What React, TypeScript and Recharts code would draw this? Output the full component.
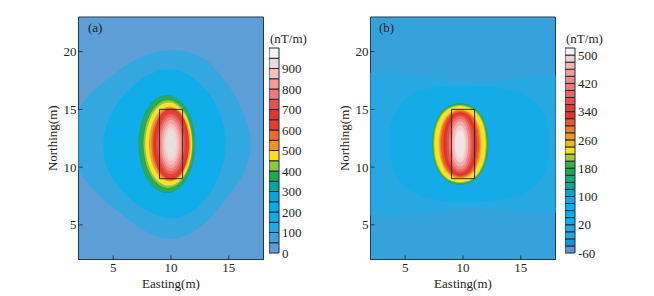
import { ScatterChart, Scatter, BarChart, Bar, XAxis, YAxis, ReferenceArea } from "recharts";

type Pair = [number, number];

const xTicks = [5, 10, 15];
const yTicks = [5, 10, 15, 20];
const anomalyBox: Pair[] = [[9, 9], [11, 9], [11, 15], [9, 15]];
const tickLength = 0.35; // in axis units

// colour bars, bottom to top
const barColorsA = [
  "#5f9bd4", "#3fa4dd", "#22a9e3", "#0fade9", "#00aeef", "#00a9d8", "#00a79d", "#1fa84f", "#8dc63f", "#fbe116",
  "#f7941d", "#ea6b2a", "#e2402f", "#e2332f", "#ec5050", "#ef7878", "#f29c96", "#f5bfbc", "#ecdcdf", "#f6f3f3",
];
const barTicksA = [0, 2, 4, 6, 8, 10, 12, 14, 16, 18];
const barLabelsA = ["0", "100", "200", "300", "400", "500", "600", "700", "800", "900"];

const barColorsB = [
  "#5f96cf", "#0d9bd8", "#2aa5df", "#22a9e3", "#10ade9", "#00aeef", "#00aeef", "#06aae4", "#0ea4c8", "#0fa78f",
  "#16a878", "#1fa84f", "#3bb04a", "#a3c93a", "#fbe116", "#f2b61f", "#f4971f", "#ef7a28", "#e85a2b", "#e2332f",
  "#e2402f", "#e85050", "#ec6464", "#ef7878", "#f08c88", "#f29c96", "#f5b4b0", "#f1d0d2", "#f8f0f2",
];
const barTicksB = [0, 4, 8, 12, 16, 20, 24, 28];
const barLabelsB = ["-60", "20", "100", "180", "260", "340", "420", "500"];

// contours of panel (a), outermost first
const contoursA: { color: string; points: Pair[] }[] = [
  { color: "#35a7e0", points: [[2.11,15.24],[2.98,16.4],[4.42,17.55],[5.87,18.7],[7.31,19.57],[8.75,20],[10,20.15],[11.35,20.06],[12.8,19.57],[14.24,18.13],[15.68,16.11],[16.55,14.09],[17.12,12.07],[16.55,9.77],[15.39,8.04],[14.24,6.6],[12.8,4.87],[11.35,4.06],[10,3.66],[8.46,4.01],[7.02,4.87],[5.58,6.02],[4.13,7.18],[2.69,8.62],[1.68,10.06],[1.5,12.4],[1.68,14.4]] },
  { color: "#0fade9", points: [[14.9,12],[14.4,14.6],[13.2,16.6],[11.6,18.1],[10,18.6],[8.2,18.2],[6.4,16.9],[4.7,14.8],[3.95,12],[4.4,9.6],[6.1,7.4],[8.1,6],[10,5.4],[11.8,5.9],[13.3,7.5],[14.4,9.6]] },
  { color: "#12a88c", points: [[12.39,12],[11.59,15.33],[9.65,16.71],[7.71,15.33],[6.91,12],[7.71,8.67],[9.65,7.29],[11.59,8.67]] },
  { color: "#2dab52", points: [[12.29,12],[11.52,15.25],[9.65,16.6],[7.78,15.25],[7.01,12],[7.78,8.75],[9.65,7.4],[11.52,8.75]] },
  { color: "#8fc640", points: [[12.1,12],[11.41,14.98],[9.75,16.21],[8.09,14.98],[7.4,12],[8.09,9.02],[9.75,7.79],[11.41,9.02]] },
  { color: "#f7e32a", points: [[12.04,12],[11.38,14.82],[9.8,15.99],[8.22,14.82],[7.56,12],[8.22,9.18],[9.8,8.01],[11.38,9.18]] },
  { color: "#f6a02a", points: [[11.9,12],[11.31,14.55],[9.9,15.6],[8.49,14.55],[7.9,12],[8.49,9.45],[9.9,8.4],[11.31,9.45]] },
  { color: "#e8702c", points: [[11.78,12],[11.24,14.47],[9.95,15.49],[8.66,14.47],[8.12,12],[8.66,9.53],[9.95,8.51],[11.24,9.53]] },
  { color: "#e03a30", points: [[11.72,12],[11.22,14.39],[10,15.38],[8.78,14.39],[8.28,12],[8.78,9.61],[10,8.62],[11.22,9.61]] },
  { color: "#e5423c", points: [[11.44,12],[11.02,14.23],[10,15.16],[8.98,14.23],[8.56,12],[8.98,9.77],[10,8.84],[11.02,9.77]] },
  { color: "#ec6060", points: [[11.28,12],[10.9,14.04],[10,14.88],[9.1,14.04],[8.72,12],[9.1,9.96],[10,9.12],[10.9,9.96]] },
  { color: "#ef8080", points: [[11.11,12],[10.78,13.84],[10,14.61],[9.22,13.84],[8.89,12],[9.22,10.16],[10,9.39],[10.78,10.16]] },
  { color: "#f2a0a0", points: [[10.94,12],[10.67,13.65],[10,14.33],[9.33,13.65],[9.06,12],[9.33,10.35],[10,9.67],[10.67,10.35]] },
  { color: "#f4bdbd", points: [[10.78,12],[10.55,13.41],[10,14],[9.45,13.41],[9.22,12],[9.45,10.59],[10,10],[10.55,10.59]] },
  { color: "#edd0d3", points: [[10.61,12],[10.43,13.18],[10,13.66],[9.57,13.18],[9.39,12],[9.57,10.82],[10,10.34],[10.43,10.82]] },
  { color: "#e9dfe3", points: [[10.5,12],[10.35,12.9],[10,13.28],[9.65,12.9],[9.5,12],[9.65,11.1],[10,10.72],[10.35,11.1]] },
];

// contours of panel (b), outermost first
const contoursB: { color: string; points: Pair[] }[] = [
  { color: "#27a8e2", points: [[-2,18.2],[3,18.2],[6,18],[9,17.5],[11,17.2],[14,17.6],[18,18],[22,18],[22,6],[18,6],[14,6.2],[11,6.5],[9,6.3],[6,5.9],[3,5.8],[-2,5.8]] },
  { color: "#14ace8", points: [[17.6,12],[17.2,15],[15,16.6],[12,17],[9,17.1],[6,16.8],[4,15.2],[3.4,12],[4,9],[6,7.4],[9,6.9],[12,7],[15,7.4],[17.2,9]] },
  { color: "#1fa97a", points: [[12.41,12],[11.77,14.93],[9.75,15.86],[7.73,14.93],[7.09,12],[7.73,9.07],[9.75,8.14],[11.77,9.07]] },
  { color: "#3dae4a", points: [[12.34,12],[11.72,14.85],[9.75,15.75],[7.78,14.85],[7.16,12],[7.78,9.15],[9.75,8.25],[11.72,9.15]] },
  { color: "#9cc83c", points: [[12.25,12],[11.65,14.79],[9.75,15.67],[7.85,14.79],[7.25,12],[7.85,9.21],[9.75,8.33],[11.65,9.21]] },
  { color: "#f8e225", points: [[12.16,12],[11.58,14.73],[9.75,15.59],[7.92,14.73],[7.34,12],[7.92,9.27],[9.75,8.41],[11.58,9.27]] },
  { color: "#f4b31f", points: [[11.76,12],[11.28,14.48],[9.75,15.26],[8.22,14.48],[7.74,12],[8.22,9.52],[9.75,8.74],[11.28,9.52]] },
  { color: "#ef8427", points: [[11.65,12],[11.2,14.41],[9.75,15.17],[8.3,14.41],[7.85,12],[8.3,9.59],[9.75,8.83],[11.2,9.59]] },
  { color: "#e85a2b", points: [[11.54,12],[11.11,14.35],[9.75,15.1],[8.39,14.35],[7.96,12],[8.39,9.65],[9.75,8.9],[11.11,9.65]] },
  { color: "#e2332f", points: [[11.33,12],[10.95,14.27],[9.75,14.99],[8.55,14.27],[8.17,12],[8.55,9.73],[9.75,9.01],[10.95,9.73]] },
  { color: "#e64a45", points: [[11.05,12],[10.74,14.11],[9.75,14.77],[8.76,14.11],[8.45,12],[8.76,9.89],[9.75,9.23],[10.74,9.89]] },
  { color: "#ec6a6a", points: [[10.84,12],[10.58,13.98],[9.75,14.61],[8.92,13.98],[8.66,12],[8.92,10.02],[9.75,9.39],[10.58,10.02]] },
  { color: "#f08c88", points: [[10.67,12],[10.45,13.82],[9.75,14.39],[9.05,13.82],[8.83,12],[9.05,10.18],[9.75,9.61],[10.45,10.18]] },
  { color: "#f4b0ac", points: [[10.51,12],[10.33,13.61],[9.75,14.12],[9.17,13.61],[8.99,12],[9.17,10.39],[9.75,9.88],[10.33,10.39]] },
  { color: "#f1d0d2", points: [[10.35,12],[10.2,13.32],[9.75,13.74],[9.3,13.32],[9.15,12],[9.3,10.68],[9.75,10.26],[10.2,10.68]] },
  { color: "#efe4e8", points: [[10.18,12],[10.08,12.99],[9.75,13.3],[9.42,12.99],[9.32,12],[9.42,11.01],[9.75,10.7],[10.08,11.01]] },
];

const FONT = '"Liberation Serif", serif';
const INK = "#231f20";
const FRAME = "#2a3644";
const tickStyle = { fontSize: 13, fontFamily: FONT, fill: INK };

// inward tick marks, drawn as short two point lines so they sit above the fill
const tickSegments: Pair[][] = [
  ...xTicks.map((t): Pair[] => [[t, 2], [t, 2 + tickLength]]),
  ...yTicks.map((t): Pair[] => [[2, t], [2 + tickLength, t]]),
];

function Panel({ left, background, contours }: { left: number; background: string; contours: { color: string; points: Pair[] }[] }) {
  return (
    <div style={{ position: "absolute", left, top: 0 }}>
      <ScatterChart width={228} height={296} margin={{ top: 17, right: 4.5, bottom: 0, left: 0 }}>
        <ReferenceArea x1={2} x2={18} y1={2} y2={23} fill={background} fillOpacity={1} stroke="none" />
        <XAxis
          type="number"
          dataKey="x"
          domain={[2, 18]}
          ticks={xTicks}
          allowDataOverflow
          height={36.5}
          tick={tickStyle}
          tickLine={false}
          tickSize={-4}
          tickMargin={7}
          stroke={FRAME}
          label={{ value: "Easting(m)", position: "insideBottom", offset: 8, style: { ...tickStyle } }}
        />
        <YAxis
          type="number"
          dataKey="y"
          domain={[2, 23]}
          ticks={yTicks}
          allowDataOverflow
          width={38.5}
          tick={tickStyle}
          tickLine={false}
          tickSize={-4}
          tickMargin={6}
          stroke={FRAME}
          label={{ value: "Northing(m)", angle: -90, position: "insideLeft", offset: 12, style: { ...tickStyle, textAnchor: "middle" } }}
        />
        {contours.map((c, i) => (
          <Scatter
            key={i}
            data={c.points.map(([x, y]) => ({ x, y }))}
            line={{ fill: c.color, stroke: "none" }}
            lineJointType="basisClosed"
            shape={() => <g />}
            isAnimationActive={false}
          />
        ))}
        <Scatter
          data={anomalyBox.map(([x, y]) => ({ x, y }))}
          line={{ fill: "none", stroke: "#3a2a2a", strokeWidth: 1 }}
          lineJointType="linearClosed"
          shape={() => <g />}
          isAnimationActive={false}
        />
        {tickSegments.map((seg, i) => (
          <Scatter
            key={`tick${i}`}
            data={seg.map(([x, y]) => ({ x, y }))}
            line={{ fill: "none", stroke: FRAME, strokeWidth: 1 }}
            shape={() => <g />}
            isAnimationActive={false}
          />
        ))}
        <ReferenceArea x1={2} x2={18} y1={2} y2={23} fill="none" stroke={FRAME} strokeWidth={1} />
      </ScatterChart>
    </div>
  );
}

function ColorBar({ left, colors, ticks, labels }: { left: number; colors: string[]; ticks: number[]; labels: string[] }) {
  const row: Record<string, number | string> = { name: "bar" };
  colors.forEach((_, i) => {
    row[`c${i}`] = 1;
  });
  return (
    <div style={{ position: "absolute", left, top: 38 }}>
      <BarChart width={45} height={225} data={[row]} margin={{ top: 10, right: 0, bottom: 10, left: 0 }} barCategoryGap={0}>
        <XAxis dataKey="name" hide />
        <YAxis
          orientation="right"
          type="number"
          domain={[0, colors.length]}
          ticks={ticks}
          interval={0}
          width={35}
          axisLine={false}
          tickLine={false}
          tickMargin={-3}
          tickFormatter={(v: number) => labels[ticks.indexOf(v)]}
          tick={tickStyle}
        />
        {colors.map((c, i) => (
          <Bar key={i} dataKey={`c${i}`} stackId="cells" fill={c} stroke="#1d2a3c" strokeWidth={1} isAnimationActive={false} />
        ))}
      </BarChart>
    </div>
  );
}

function Caption({ left, top, text }: { left: number; top: number; text: string }) {
  return (
    <div style={{ position: "absolute", left, top, fontFamily: FONT, fontSize: 13, lineHeight: "15px", color: INK, whiteSpace: "nowrap" }}>
      {text}
    </div>
  );
}

export default function App() {
  return (
    <div style={{ position: "absolute", left: 0, top: 0, width: 654, height: 296, background: "#ffffff", overflow: "hidden" }}>
      <Panel left={40} background="#5d9ed6" contours={contoursA} />
      <Panel left={331.5} background="#35a2dc" contours={contoursB} />
      <ColorBar left={269} colors={barColorsA} ticks={barTicksA} labels={barLabelsA} />
      <ColorBar left={564.5} colors={barColorsB} ticks={barTicksB} labels={barLabelsB} />
      <Caption left={88} top={20} text="(a)" />
      <Caption left={379} top={20} text="(b)" />
      <Caption left={270} top={31} text="(nT/m)" />
      <Caption left={566} top={31} text="(nT/m)" />
    </div>
  );
}
